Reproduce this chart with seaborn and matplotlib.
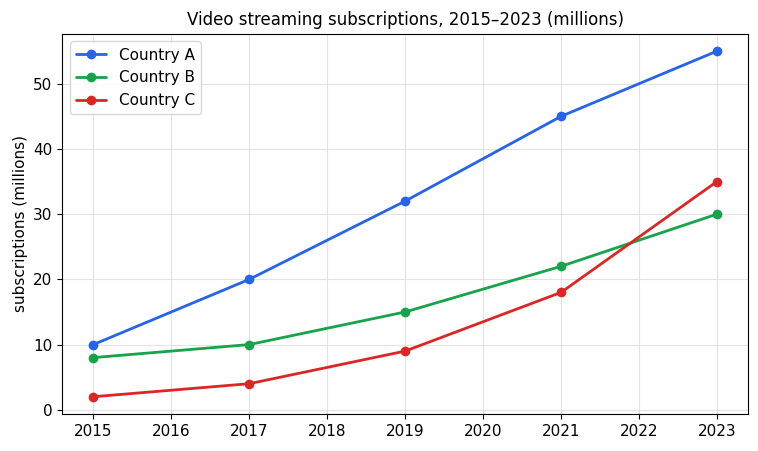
import pandas as pd
import matplotlib.pyplot as plt
import seaborn as sns

years = [2015, 2017, 2019, 2021, 2023]
country_a = [10, 20, 32, 45, 55]
country_b = [8, 10, 15, 22, 30]
country_c = [2, 4, 9, 18, 35]
series_names = ["Country A", "Country B", "Country C"]
colors = ["#2563eb", "#16a34a", "#dc2626"]

df = pd.DataFrame({
    "year": years * 3,
    "value": country_a + country_b + country_c,
    "series": [n for n in series_names for _ in years],
})

sns.set_style("ticks")
plt.rcParams["font.family"] = ["DejaVu Sans"]
plt.rcParams["text.color"] = "black"
plt.rcParams["axes.labelcolor"] = "black"
plt.rcParams["xtick.color"] = "black"
plt.rcParams["ytick.color"] = "black"
plt.rcParams["axes.edgecolor"] = "black"

fig, ax = plt.subplots(figsize=(7.58, 4.51), dpi=100)
sns.lineplot(data=df, x="year", y="value", hue="series", palette=colors,
             marker="o", markersize=7, markeredgewidth=0, linewidth=2, ax=ax)

ax.set_title("Video streaming subscriptions, 2015\u20132023 (millions)", fontsize=12)
ax.set_xlabel("")
ax.set_ylabel("subscriptions (millions)", fontsize=11)
ax.set_xticks(range(2015, 2024))
ax.set_yticks([0, 10, 20, 30, 40, 50])
ax.tick_params(labelsize=11)
ax.grid(True, color="#dddddd", linewidth=0.8, alpha=0.8)
ax.set_axisbelow(True)
ax.legend(title=None, loc="upper left", fontsize=11)

fig.subplots_adjust(left=0.082, right=0.987, top=0.925, bottom=0.082)
plt.savefig("out.png")
